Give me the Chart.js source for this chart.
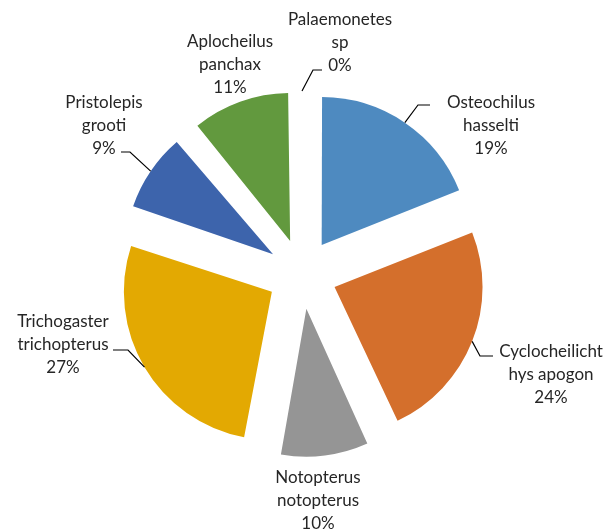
<!DOCTYPE html>
<html>
<head>
<meta charset="utf-8">
<script src="https://cdn.jsdelivr.net/npm/chart.js@4/dist/chart.umd.min.js"></script>
<style>
  html, body { margin: 0; padding: 0; background: #fff; }
  #wrap { width: 616px; height: 531px; }
</style>
</head>
<body>
<div id="wrap"><canvas id="myChart" width="616" height="531"></canvas></div>
<script>
// species (label lines) and their share in percent
var species = [
    ['Osteochilus', 'hasselti'],
    ['Cyclocheilicht', 'hys apogon'],
    ['Notopterus', 'notopterus'],
    ['Trichogaster', 'trichopterus'],
    ['Pristolepis', 'grooti'],
    ['Aplocheilus', 'panchax'],
    ['Palaemonetes', 'sp']
];
var shares = [19, 24, 10, 27, 9, 11, 0];
var colors = ['#4E8AC0', '#D46F2C', '#959595', '#E3A902', '#3D64AC', '#62993E', '#4472C4'];

// label layout: center x of text block, y of first line, leader elbow + end (or null)
var labelLayout = [
    { x: 491, y: 103, leader: [418, 105, 430] },
    { x: 551, y: 352, leader: [480, 356, 493] },
    { x: 318, y: 478, leader: null },
    { x: 63, y: 322, leader: [128, 350, 113] },
    { x: 104, y: 103, leader: [130, 152, 121] },
    { x: 230, y: 42, leader: null },
    { x: 340, y: 20, leader: [313, 70, 322] }
];

var RADIUS = 148;
var OFFSET = 140; // chart.js moves a slice by offset / 4

// keep every exploded slice at the same radius
var radiusFix = {
    id: 'radiusFix',
    beforeDatasetsDraw: function (chart) {
        chart.getDatasetMeta(0).data.forEach(function (arc) {
            var fix = 1 - Math.sin(Math.min(Math.PI, arc.circumference || 0));
            arc.outerRadius = RADIUS - (OFFSET / 4) * fix;
        });
    }
};

var pieLabels = {
    id: 'pieLabels',
    afterDatasetsDraw: function (chart) {
        var ctx = chart.ctx;
        var meta = chart.getDatasetMeta(0);
        ctx.save();
        ctx.font = '17px Lato';
        ctx.fillStyle = '#262626';
        ctx.textAlign = 'center';
        ctx.textBaseline = 'middle';
        meta.data.forEach(function (arc, i) {
            var lay = labelLayout[i];
            var lines = species[i].concat([shares[i] + '%']);
            lines.forEach(function (t, k) {
                ctx.fillText(t, lay.x, lay.y + k * 23);
            });
            if (lay.leader) {
                var mid = (arc.startAngle + arc.endAngle) / 2;
                var d = OFFSET / 4 + RADIUS;
                var sx = arc.x + Math.cos(mid) * d;
                var sy = arc.y + Math.sin(mid) * d;
                ctx.beginPath();
                ctx.strokeStyle = '#000000';
                ctx.lineWidth = 1.2;
                ctx.moveTo(sx, sy);
                ctx.lineTo(lay.leader[0], lay.leader[1]);
                ctx.lineTo(lay.leader[2], lay.leader[1]);
                ctx.stroke();
            }
        });
        ctx.restore();
    }
};

var ctx = document.getElementById('myChart').getContext('2d');
var myChart = new Chart(ctx, {
    type: 'pie',
    data: {
        labels: species.map(function (s) { return s.join(' '); }),
        datasets: [{
            data: shares,
            backgroundColor: colors,
            borderWidth: 0,
            offset: OFFSET,
            hoverOffset: 0,
            radius: RADIUS
        }]
    },
    options: {
        responsive: false,
        animation: false,
        layout: { padding: { left: 0, right: 12, top: 17, bottom: 0 } },
        plugins: {
            legend: { display: false },
            tooltip: { enabled: false }
        }
    },
    plugins: [radiusFix, pieLabels]
});
</script>
</body>
</html>
